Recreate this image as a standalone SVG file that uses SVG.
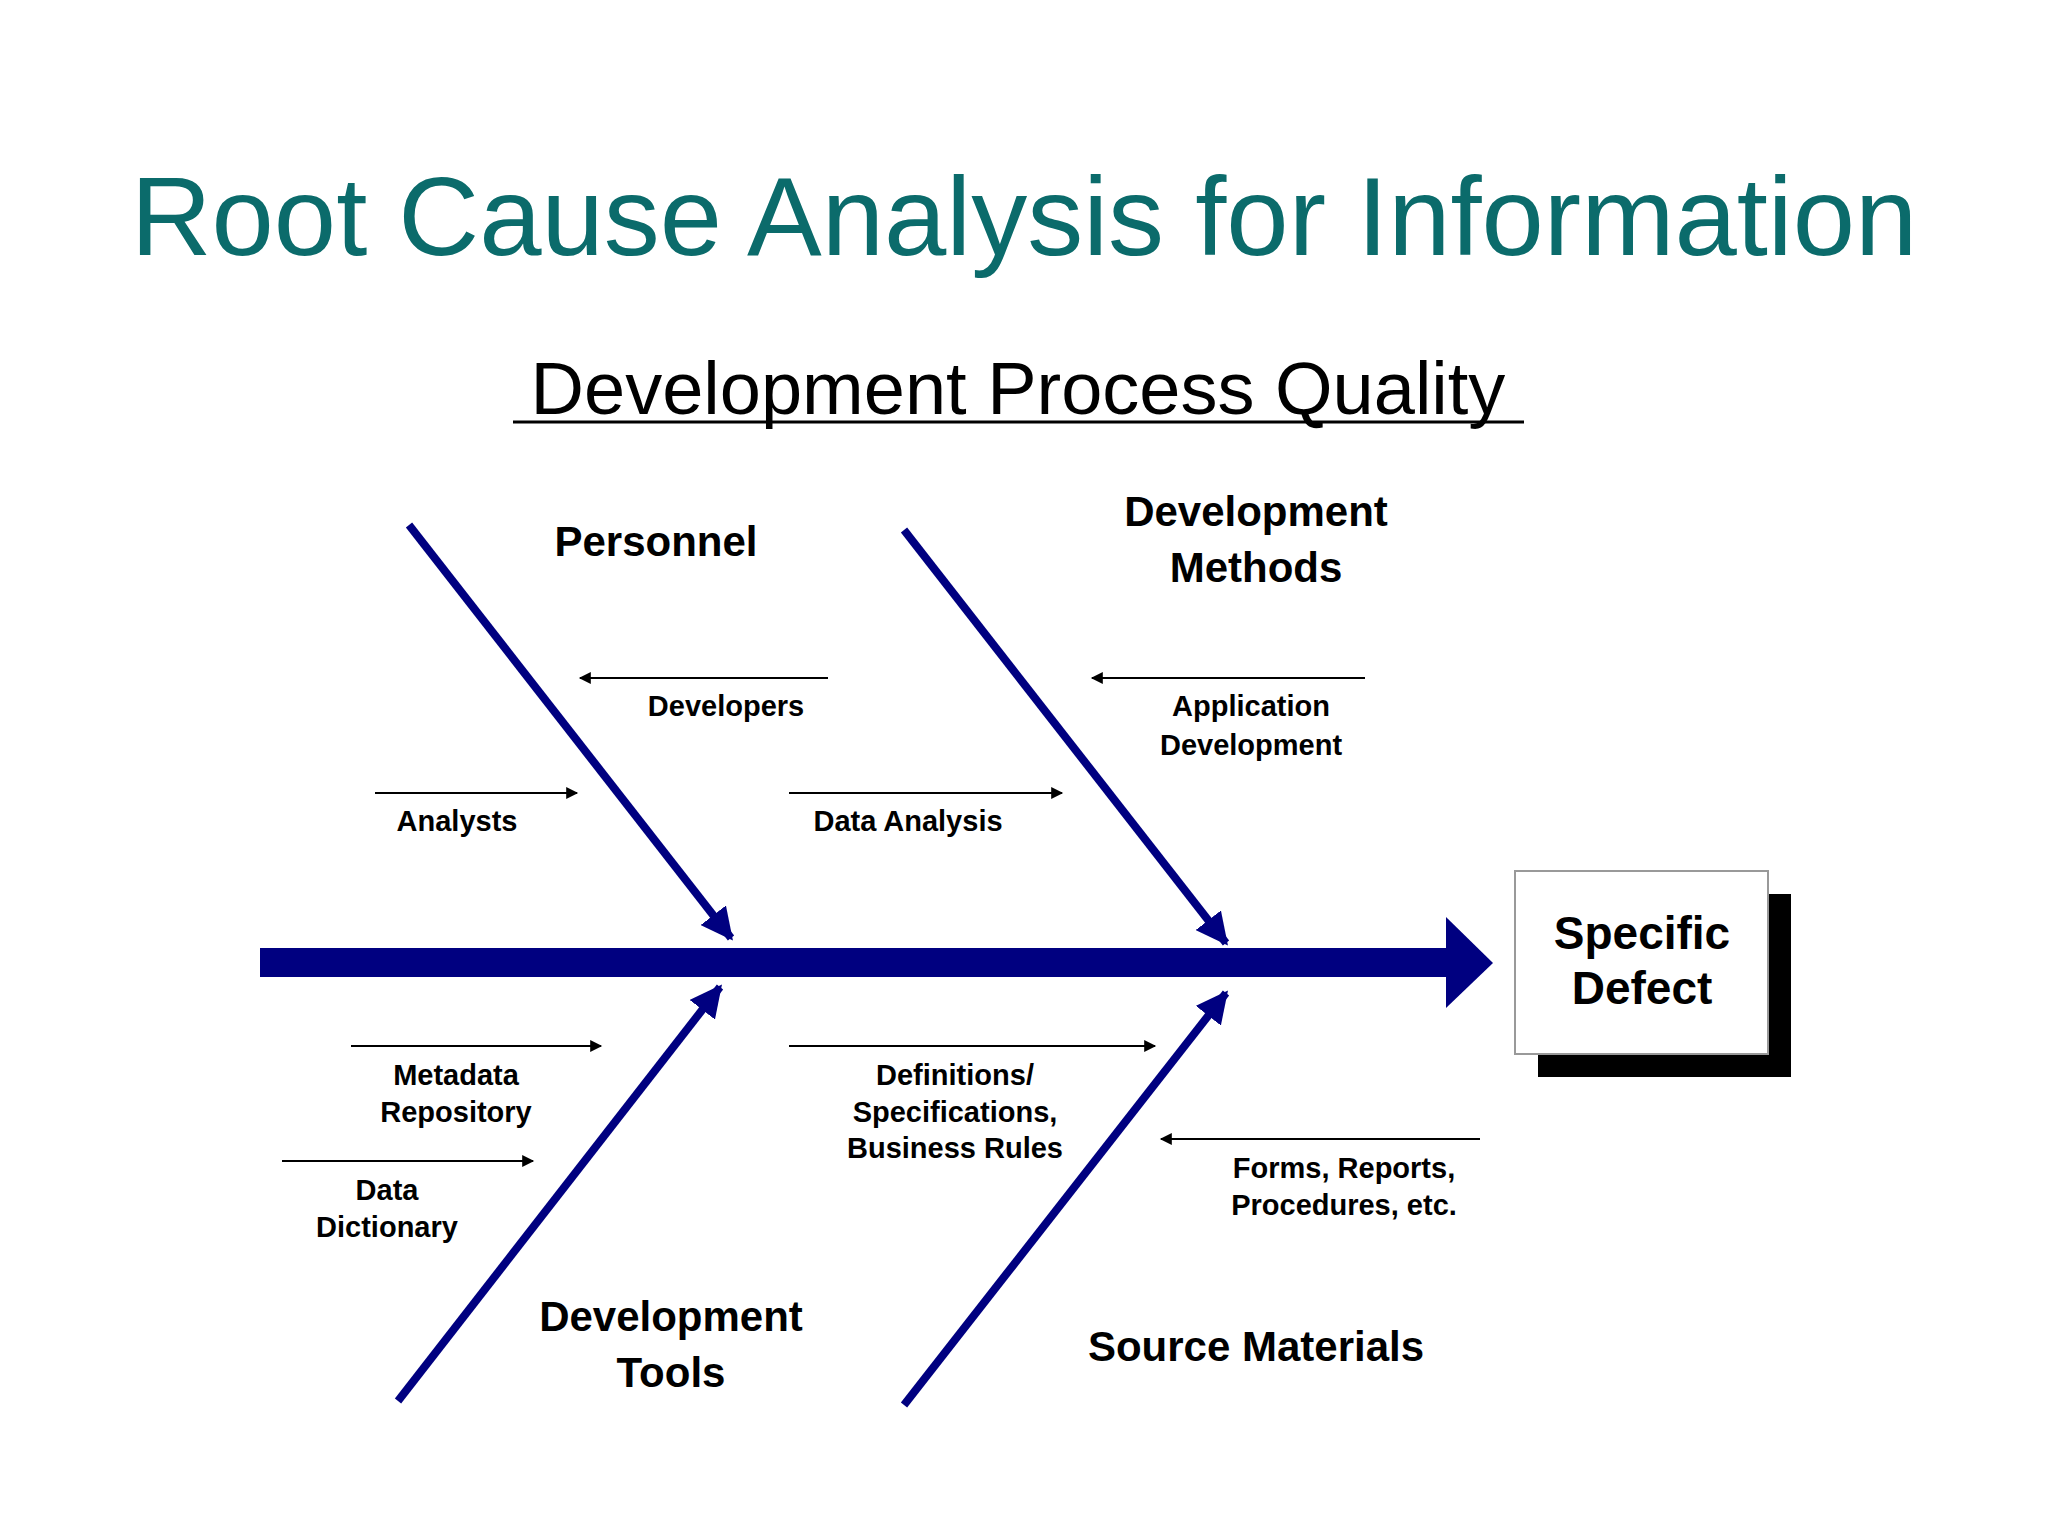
<svg xmlns="http://www.w3.org/2000/svg" width="2048" height="1536" viewBox="0 0 2048 1536">
<defs>
<style>
text{font-family:"Liberation Sans",Arial,sans-serif;fill:#000;text-anchor:middle}
.s{font-size:29px;font-weight:bold}
.b{font-size:42px;font-weight:bold}
.bone{stroke:#000080;stroke-width:8;fill:none;marker-end:url(#nv)}
.sm{stroke:#000;stroke-width:2;fill:none;marker-end:url(#bk)}
</style>
<marker id="nv" viewBox="0 0 10 10" refX="9" refY="5" markerWidth="4" markerHeight="4" orient="auto" markerUnits="strokeWidth"><path d="M0,0L10,5L0,10z" fill="#000080"/></marker>
<marker id="bk" viewBox="0 0 10 10" refX="9" refY="5" markerWidth="8" markerHeight="6" orient="auto" markerUnits="strokeWidth"><path d="M0,0L10,5L0,10z" fill="#000"/></marker>
</defs>
<rect width="2048" height="1536" fill="#fff"/>
<text x="1024" y="255" style="font-size:112px;fill:#0b6b6b">Root Cause Analysis for Information</text>
<text x="1018" y="414" style="font-size:74px">Development Process Quality</text>
<line x1="513" y1="422" x2="1524" y2="422" stroke="#000" stroke-width="3"/>
<g id="connectors">
<rect x="260" y="948" width="1188" height="29" fill="#000080"/>
<path d="M1446,917L1493,963L1446,1008z" fill="#000080"/>
<line class="bone" x1="409" y1="525" x2="731" y2="938"/>
<line class="bone" x1="904" y1="530" x2="1226" y2="943"/>
<line class="bone" x1="398" y1="1401" x2="720" y2="987"/>
<line class="bone" x1="904" y1="1405" x2="1226" y2="993"/>
<line class="sm" x1="828" y1="678" x2="580" y2="678"/>
<line class="sm" x1="375" y1="793" x2="577" y2="793"/>
<line class="sm" x1="1365" y1="678" x2="1092" y2="678"/>
<line class="sm" x1="789" y1="793" x2="1062" y2="793"/>
<line class="sm" x1="351" y1="1046" x2="601" y2="1046"/>
<line class="sm" x1="282" y1="1161" x2="533" y2="1161"/>
<line class="sm" x1="789" y1="1046" x2="1155" y2="1046"/>
<line class="sm" x1="1480" y1="1139" x2="1161" y2="1139"/>
</g>
<g id="defect">
<rect x="1538" y="894" width="253" height="183" fill="#000"/>
<rect x="1515" y="871" width="253" height="183" fill="#fff" stroke="#999" stroke-width="2"/>
<text class="b" x="1642" y="949" style="font-size:46px">Specific</text>
<text class="b" x="1642" y="1004" style="font-size:46px">Defect</text>
</g>
<g id="personnel"><text class="b" x="656" y="556">Personnel</text></g>
<g id="methods"><text class="b" x="1256" y="526">Development</text><text class="b" x="1256" y="582">Methods</text></g>
<g id="tools"><text class="b" x="671" y="1331">Development</text><text class="b" x="671" y="1387">Tools</text></g>
<g id="source"><text class="b" x="1256" y="1361">Source Materials</text></g>
<g id="developers"><text class="s" x="726" y="716">Developers</text></g>
<g id="analysts"><text class="s" x="457" y="831">Analysts</text></g>
<g id="appdev"><text class="s" x="1251" y="716">Application</text><text class="s" x="1251" y="755">Development</text></g>
<g id="dataanalysis"><text class="s" x="908" y="831">Data Analysis</text></g>
<g id="metadata"><text class="s" x="456" y="1085">Metadata</text><text class="s" x="456" y="1122">Repository</text></g>
<g id="dictionary"><text class="s" x="387" y="1200">Data</text><text class="s" x="387" y="1237">Dictionary</text></g>
<g id="definitions"><text class="s" x="955" y="1085">Definitions/</text><text class="s" x="955" y="1122">Specifications,</text><text class="s" x="955" y="1158">Business Rules</text></g>
<g id="forms"><text class="s" x="1344" y="1178">Forms, Reports,</text><text class="s" x="1344" y="1215">Procedures, etc.</text></g>
</svg>
